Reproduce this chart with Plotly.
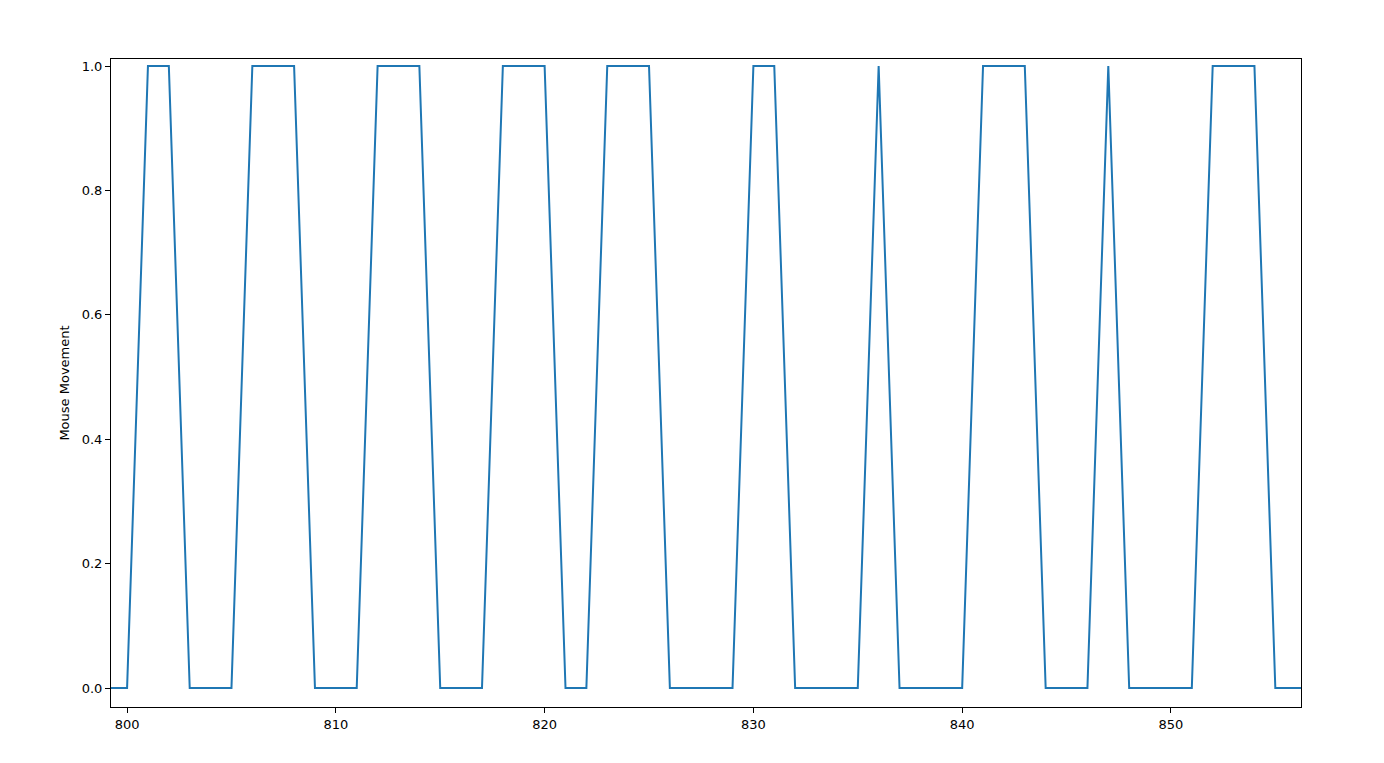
import plotly.graph_objects as go

x_vals = list(range(799, 858))
y_vals = [0, 0, 1, 1, 0, 0, 0, 1, 1, 1, 0, 0, 0, 1, 1, 1, 0, 0, 0, 1, 1, 1, 0, 0,
          1, 1, 1, 0, 0, 0, 0, 1, 1, 0, 0, 0, 0, 1, 0, 0, 0, 0, 1, 1, 1, 0, 0, 0,
          1, 0, 0, 0, 0, 1, 1, 1, 0, 0, 0]
x_ticks = [800, 810, 820, 830, 840, 850]
y_ticks = [0.0, 0.2, 0.4, 0.6, 0.8, 1.0]

fig = go.Figure()
fig.add_trace(go.Scatter(x=x_vals, y=y_vals, mode="lines",
                         line=dict(color="#1f77b4", width=2), showlegend=False))

axis_common = dict(showgrid=False, zeroline=False, showline=True, linecolor="black",
                   linewidth=1, mirror=True, ticks="outside", ticklen=5, tickwidth=1,
                   tickcolor="black", tickfont=dict(family="DejaVu Sans", size=13, color="black"))
fig.update_xaxes(range=[799.23, 856.23], tickvals=x_ticks,
                 ticktext=[str(t) for t in x_ticks], **axis_common)
fig.update_yaxes(range=[-0.0305, 1.0113], tickvals=y_ticks,
                 ticktext=[f"{t:.1f}" for t in y_ticks],
                 title=dict(text="Mouse Movement", font=dict(family="DejaVu Sans", size=13, color="black"), standoff=9),
                 **axis_common)
fig.update_layout(width=1384, height=763, plot_bgcolor="white", paper_bgcolor="white",
                  margin=dict(l=103, r=91, t=51, b=64), font=dict(family="DejaVu Sans"))
fig.write_html("out.html")
